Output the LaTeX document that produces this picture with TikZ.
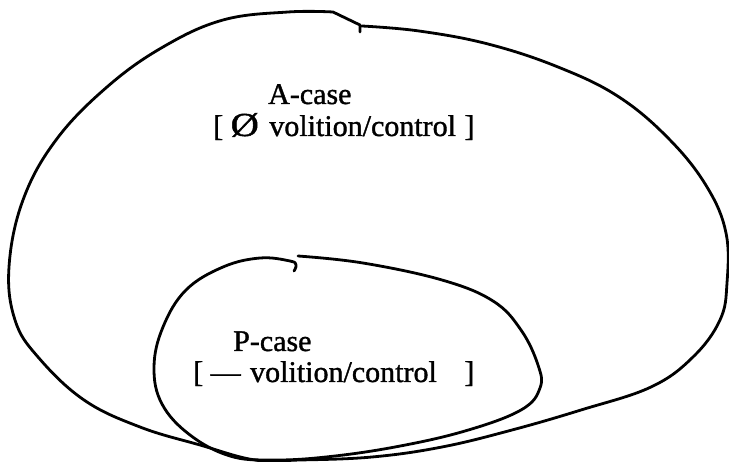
\documentclass[tikz,border=0pt]{standalone}
\usepackage{graphicx}
\usepackage{fontspec}
\setmainfont{Liberation Serif}[BoldFont={Liberation Serif}, BoldFeatures={FakeBold=1.2}]
\begin{document}
\begin{tikzpicture}[x=1pt,y=-1pt,
  blob/.style={line width=2.8pt, line join=round, line cap=round},
  lbl/.style={anchor=base west, inner sep=0pt, font=\fontsize{30}{30}\selectfont\bfseries}]
\useasboundingbox (0,0) rectangle (729,462);
% outer region
\draw[blob] plot[smooth, tension=0.65] coordinates {(362,26) (419,31) (488,44) (558,67) (619,97) (670,140) (707,187) (726,233) (727,283) (720,320) (693,357) (651,387) (581,410) (512,430) (442,447) (372,457) (300,460) (255,460) (200,445) (140,427) (84,400) (38,357) (15,320) (9,267) (23,200) (56,140) (107,87) (163,47) (223,20) (288,12) (333,12)} -- (360,25) -- (360,32);
% inner region
\draw[blob] plot[smooth, tension=0.65] coordinates {(298,256) (363,263) (442,280) (493,301) (521,330) (538,365) (540,388) (521,410) (465,431) (395,447) (326,457) (272,460) (230,456) (190,435) (162,404) (154,367) (163,327) (186,290) (223,267) (260,258) (290,261) (296,265) (294,271)};
% labels
\node[lbl] (acase) at (268,104) {A-case};
\node[lbl] (avol) at (213,136) {[ \scalebox{1.3}[1.12]{Ø}\hspace{3pt} volition/control\hspace{1pt} ]};
\node[lbl] (pcase) at (233,351) {P-case};
\node[lbl] (pvol) at (193,382) {[ —\hspace{2pt} volition/control\hspace{20pt} ]};
\end{tikzpicture}
\end{document}
